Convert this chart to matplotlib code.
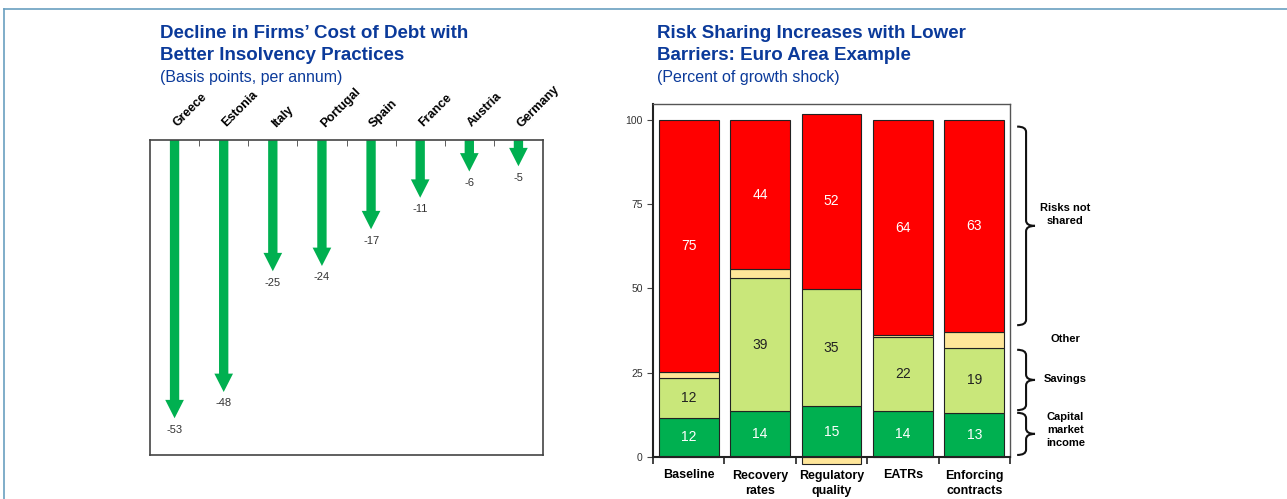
import matplotlib
matplotlib.use("Agg")
import matplotlib.pyplot as plt
from matplotlib.lines import Line2D
from matplotlib.path import Path
from matplotlib.patches import PathPatch
import matplotlib.transforms as mtransforms

plt.rcParams['font.family'] = ['Liberation Sans', 'DejaVu Sans']

# left panel data
countries = ['Greece', 'Estonia', 'Italy', 'Portugal', 'Spain', 'France', 'Austria', 'Germany']
decline = [-53, -48, -25, -24, -17, -11, -6, -5]

# right panel data
scenarios = ['Baseline', 'Recovery\nrates', 'Regulatory\nquality', 'EATRs', 'Enforcing\ncontracts']
capital_income = [11.7, 13.7, 15.0, 13.6, 13.1]
savings = [11.6, 39.3, 34.9, 22.0, 19.3]
other = [1.9, 2.7, -2.0, 0.5, 4.7]
not_shared = [74.8, 44.3, 51.9, 63.9, 62.9]
brace_labels = ['Risks not\nshared', 'Other', 'Savings', 'Capital\nmarket\nincome']

W, H = 1287, 499
fig = plt.figure(figsize=(W / 100, H / 100), dpi=100)

title_col = '#0B3A9A'
green = '#00B050'

# frame lines of the figure
fig.add_artist(Line2D([4 / W, 4 / W], [0, 1 - 9 / H], color='#6A9FC0', lw=1.2))
fig.add_artist(Line2D([4 / W, 1], [1 - 9 / H, 1 - 9 / H], color='#6A9FC0', lw=1.2))

# titles
fig.text(160 / W, 1 - 25 / H, 'Decline in Firms\u2019 Cost of Debt with\nBetter Insolvency Practices',
         color=title_col, fontsize=13.5, fontweight='bold', va='top', ha='left', linespacing=1.4)
fig.text(160 / W, 1 - 70 / H, '(Basis points, per annum)', color=title_col, fontsize=11.5,
         va='top', ha='left')
fig.text(657 / W, 1 - 25 / H, 'Risk Sharing Increases with Lower\nBarriers: Euro Area Example',
         color=title_col, fontsize=13.5, fontweight='bold', va='top', ha='left', linespacing=1.4)
fig.text(657 / W, 1 - 70 / H, '(Percent of growth shock)', color=title_col, fontsize=11.5,
         va='top', ha='left')

# ---- left chart ----
ax1 = fig.add_axes([150 / W, 1 - 455 / H, 393 / W, 315 / H])
n = len(countries)
for i, v in enumerate(decline):
    ax1.arrow(i, 0, 0, v, width=0.19, head_width=0.38, head_length=3.5,
              length_includes_head=True, color=green, lw=0)
    ax1.text(i, v - 1.2, str(v), ha='center', va='top', fontsize=8, color='#333333')
    ax1.text(i + 0.1, 2.0, countries[i], rotation=45, rotation_mode='anchor',
             ha='left', va='bottom', fontsize=9, fontweight='bold')
ax1.set_xlim(-0.5, n - 0.5)
ax1.set_ylim(-60, 0)
ax1.set_yticks([])
ax1.set_xticks([])
ax1.set_xticks([i + 0.5 for i in range(n - 1)], minor=True)
ax1.tick_params(axis='x', which='minor', top=True, bottom=False, direction='in', length=4,
                color='#444444', labeltop=False, labelbottom=False)
for s in ax1.spines.values():
    s.set_color('#444444')
    s.set_linewidth(1.2)

# ---- right chart ----
ax2 = fig.add_axes([653 / W, 1 - 457 / H, 357 / W, 353 / H])
m = len(scenarios)
xs = list(range(m))
bw = 0.84
ec = '#222222'
for i in xs:
    c, s, o, r = capital_income[i], savings[i], other[i], not_shared[i]
    ax2.bar(i, c, bw, bottom=0, color=green, edgecolor=ec, lw=0.8, clip_on=False)
    ax2.bar(i, s, bw, bottom=c, color='#C9E77A', edgecolor=ec, lw=0.8, clip_on=False)
    if o >= 0:
        ax2.bar(i, o, bw, bottom=c + s, color='#FFE699', edgecolor=ec, lw=0.8, clip_on=False)
        rb = c + s + o
    else:
        ax2.bar(i, o, bw, bottom=0, color='#FFE699', edgecolor=ec, lw=0.8, clip_on=False,
                zorder=1)
        rb = c + s
    ax2.bar(i, r, bw, bottom=rb, color='#FF0000', edgecolor=ec, lw=0.8, clip_on=False)
    ax2.text(i, c / 2, f'{round(c)}', ha='center', va='center', color='white', fontsize=10)
    ax2.text(i, c + s / 2, f'{round(s)}', ha='center', va='center', color='#222222', fontsize=10)
    ax2.text(i, rb + r / 2, f'{round(r)}', ha='center', va='center', color='white', fontsize=10)

ax2.set_xlim(-0.5, m - 0.5)
ax2.set_ylim(0, 104.7)
ax2.set_yticks([0, 25, 50, 75, 100])
ax2.tick_params(axis='y', labelsize=7.5, length=4, direction='out', color='#444444',
                labelcolor='#333333')
ax2.set_xticks(xs)
ax2.set_xticklabels(scenarios, fontsize=9, fontweight='bold', linespacing=1.4)
ax2.tick_params(axis='x', which='major', length=0, pad=9)
ax2.set_xticks([i + 0.5 for i in range(-1, m)], minor=True)
ax2.tick_params(axis='x', which='minor', length=5, direction='out', color='#222222', width=1.2)
for s in ax2.spines.values():
    s.set_color('#555555')
    s.set_linewidth(1.0)
ax2.spines['bottom'].set_color('#222222')
ax2.spines['bottom'].set_linewidth(1.5)
ax2.spines['left'].set_color('#222222')
ax2.spines['left'].set_linewidth(1.5)

# braces based on the last bar
trans = mtransforms.blended_transform_factory(ax2.transAxes, ax2.transData)
c, s, o = capital_income[-1], savings[-1], other[-1]
ranges = [(c + s + o + 2.0, 98.0), None, (c + 0.8, c + s - 0.6), (0.6, c)]
label_y = [72.0, 35.0, 23.0, 8.0]


def brace(y0, y1, x0=1.02, x1=1.07, r=1.6):
    h = (x1 - x0) / 2
    ym = (y0 + y1) / 2
    verts = [(x0, y1), (x0 + h, y1), (x0 + h, y1 - r),
             (x0 + h, ym + r),
             (x0 + h, ym), (x1, ym),
             (x0 + h, ym), (x0 + h, ym - r),
             (x0 + h, y0 + r),
             (x0 + h, y0), (x0, y0)]
    codes = [Path.MOVETO, Path.CURVE3, Path.CURVE3, Path.LINETO,
             Path.CURVE3, Path.CURVE3, Path.CURVE3, Path.CURVE3,
             Path.LINETO, Path.CURVE3, Path.CURVE3]
    p = PathPatch(Path(verts, codes), transform=trans, fill=False, lw=1.5,
                  color='#111111', clip_on=False)
    ax2.add_patch(p)


for rg, lab, ly in zip(ranges, brace_labels, label_y):
    if rg is not None:
        brace(rg[0], rg[1])
    ax2.text(1.155, ly, lab, transform=trans, ha='center', va='center', fontsize=8,
             fontweight='bold', linespacing=1.35, clip_on=False)

fig.savefig('out.png', dpi=100)
